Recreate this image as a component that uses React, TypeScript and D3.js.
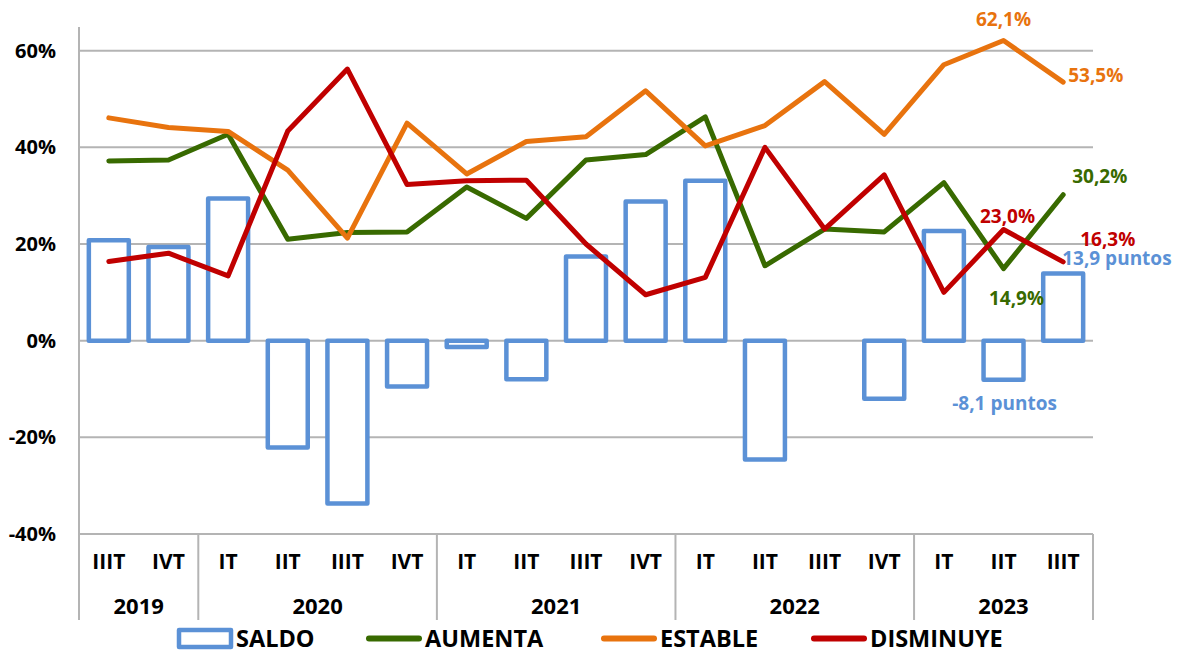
import React from "react";
import * as d3 from "d3";

const quarters = ["IIIT","IVT","IT","IIT","IIIT","IVT","IT","IIT","IIIT","IVT","IT","IIT","IIIT","IVT","IT","IIT","IIIT"];
const years = [
  { label: "2019", start: 0, end: 2 },
  { label: "2020", start: 2, end: 6 },
  { label: "2021", start: 6, end: 10 },
  { label: "2022", start: 10, end: 14 },
  { label: "2023", start: 14, end: 17 },
];
const saldo: (number | null)[] = [20.8, 19.4, 29.4, -22.1, -33.7, -9.5, -1.3, -8.0, 17.4, 28.8, 33.1, -24.6, null, -12.0, 22.7, -8.1, 13.9];
const aumenta = [37.2, 37.4, 42.7, 21.0, 22.4, 22.5, 31.8, 25.3, 37.4, 38.5, 46.3, 15.5, 23.1, 22.5, 32.7, 14.9, 30.2];
const estable = [46.1, 44.1, 43.3, 35.3, 21.2, 45.0, 34.5, 41.2, 42.2, 51.7, 40.3, 44.5, 53.6, 42.7, 57.1, 62.1, 53.5];
const disminuye = [16.4, 18.1, 13.4, 43.4, 56.2, 32.3, 33.1, 33.2, 20.0, 9.5, 13.1, 40.0, 23.1, 34.3, 10.0, 23.0, 16.3];
const yTicks = [-40, -20, 0, 20, 40, 60];

const series = [
  { name: "AUMENTA", values: aumenta, color: "#386A00" },
  { name: "ESTABLE", values: estable, color: "#E8730E" },
  { name: "DISMINUYE", values: disminuye, color: "#C00000" },
];
const BLUE = "#5B91D6";
const GRID = "#B4B4B4";
const FONT = "'Open Sans', sans-serif";

export default function App() {
  const left = 79, right = 1093;
  const x = d3.scaleBand<number>().domain(d3.range(quarters.length)).range([left, right]).paddingInner(0).paddingOuter(0);
  const y = d3.scaleLinear().domain([-40, 60]).range([534, 50.7]);
  const cx = (i: number) => (x(i) as number) + x.bandwidth() / 2;
  const barW = x.bandwidth() * 0.67;
  const line = d3.line<number>().x((_, i) => cx(i)).y((v) => y(v));

  const labels = [
    { text: "62,1%", x: cx(15), y: y(62.1) - 14.5, anchor: "middle", color: "#E8730E" },
    { text: "53,5%", x: cx(16) + 5, y: y(53.5) + 0, anchor: "start", color: "#E8730E" },
    { text: "30,2%", x: cx(16) + 9, y: y(30.2) - 12, anchor: "start", color: "#386A00" },
    { text: "23,0%", x: cx(15) + 4, y: y(23.0) - 6.5, anchor: "middle", color: "#C00000" },
    { text: "16,3%", x: cx(16) + 17, y: y(16.3) - 15.5, anchor: "start", color: "#C00000" },
    { text: "13,9 puntos", x: cx(16) - 1, y: y(13.9) - 9, anchor: "start", color: BLUE },
    { text: "14,9%", x: cx(15) + 13, y: y(14.9) + 36, anchor: "middle", color: "#386A00" },
    { text: "-8,1 puntos", x: cx(15) + 1, y: y(-8.1) + 30, anchor: "middle", color: BLUE },
  ];

  const legend = [
    { name: "SALDO", kind: "box", color: BLUE, x0: 177 },
    { name: "AUMENTA", kind: "line", color: "#386A00", x0: 366 },
    { name: "ESTABLE", kind: "line", color: "#E8730E", x0: 601 },
    { name: "DISMINUYE", kind: "line", color: "#C00000", x0: 811 },
  ];

  return (
    <svg width={1179} height={653} style={{ position: "absolute", left: 0, top: 0, background: "#fff" }} fontFamily={FONT}>
      {yTicks.map((t) => (
        <line key={t} x1={left} x2={right} y1={y(t)} y2={y(t)} stroke={GRID} strokeWidth={2} />
      ))}
      <line x1={left} x2={left} y1={27} y2={620} stroke={GRID} strokeWidth={2} />
      {years.map((g) => (
        <line key={g.label} x1={(x(g.end - 1) as number) + x.bandwidth()} x2={(x(g.end - 1) as number) + x.bandwidth()} y1={y(-40)} y2={620} stroke={GRID} strokeWidth={2} />
      ))}
      {yTicks.map((t) => (
        <text key={t} x={56} y={y(t) + 7} textAnchor="end" fontSize={20} fontWeight="bold" fill="#000">{`${t}%`}</text>
      ))}
      {quarters.map((q, i) => (
        <text key={i} x={cx(i)} y={569} textAnchor="middle" fontSize={21} fontWeight="bold" fill="#000">{q}</text>
      ))}
      {years.map((g) => (
        <text key={g.label} x={((x(g.start) as number) + (x(g.end - 1) as number) + x.bandwidth()) / 2} y={614} textAnchor="middle" fontSize={22} fontWeight="bold" fill="#000">{g.label}</text>
      ))}
      {saldo.map((v, i) =>
        v === null ? null : (
          <rect key={i} x={cx(i) - barW / 2} width={barW} y={Math.min(y(v), y(0))} height={Math.abs(y(v) - y(0))}
            fill="#fff" stroke={BLUE} strokeWidth={4.5} strokeLinejoin="round" />
        )
      )}
      {series.map((s) => (
        <path key={s.name} d={line(s.values) || ""} fill="none" stroke={s.color} strokeWidth={5} strokeLinejoin="round" strokeLinecap="round" />
      ))}
      {labels.map((l) => (
        <text key={l.text} x={l.x} y={l.y} textAnchor={l.anchor as any} fontSize={19} fontWeight="bold" fill={l.color}>{l.text}</text>
      ))}
      {legend.map((l) => (
        <g key={l.name}>
          {l.kind === "box" ? (
            <rect x={l.x0 + 2} y={630} width={52} height={17} fill="#fff" stroke={l.color} strokeWidth={4.5} strokeLinejoin="round" />
          ) : (
            <line x1={l.x0 + 3} x2={l.x0 + 53} y1={638.5} y2={638.5} stroke={l.color} strokeWidth={6} strokeLinecap="round" />
          )}
          <text x={l.x0 + 59} y={647} fontSize={23.5} fontWeight="bold" fill="#000">{l.name}</text>
        </g>
      ))}
    </svg>
  );
}
